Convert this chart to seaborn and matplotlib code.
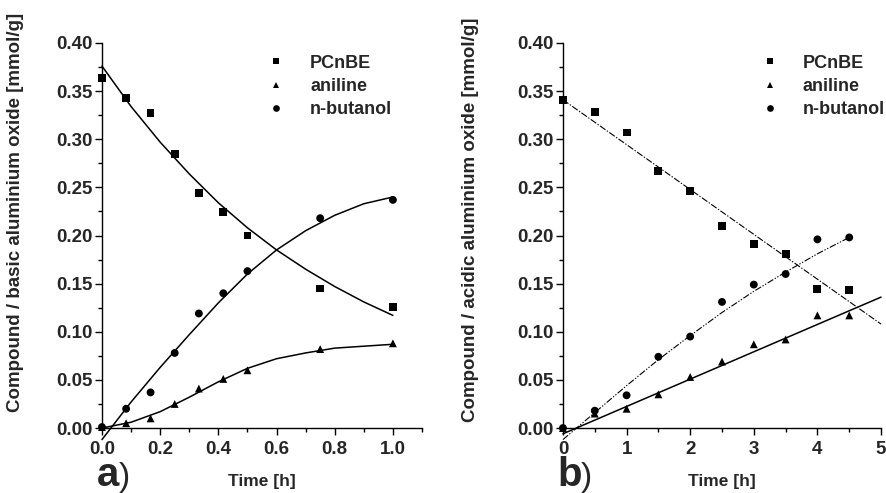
import numpy as np
import pandas as pd
import seaborn as sns
import matplotlib.pyplot as plt
from matplotlib.ticker import MultipleLocator

sns.set_style("ticks")
plt.rcParams['font.family'] = ['Liberation Sans', 'DejaVu Sans']
plt.rcParams['font.weight'] = 'bold'
plt.rcParams['axes.labelweight'] = 'bold'

# panel a) basic aluminium oxide, time [h]
t_basic = [0.0, 0.083, 0.167, 0.25, 0.333, 0.417, 0.5, 0.75, 1.0]
pcnbe_basic = [0.364, 0.343, 0.327, 0.285, 0.244, 0.224, 0.200, 0.145, 0.126]
aniline_basic = [0.001, 0.005, 0.010, 0.025, 0.041, 0.051, 0.060, 0.082, 0.088]
butanol_basic = [0.001, 0.020, 0.037, 0.078, 0.119, 0.140, 0.163, 0.218, 0.237]

# fitted curves read off panel a)
fit_t_basic = [0.0, 0.1, 0.2, 0.3, 0.4, 0.5, 0.6, 0.7, 0.8, 0.9, 1.0]
fit_pcnbe_basic = [0.376, 0.334, 0.297, 0.264, 0.234, 0.208, 0.185, 0.165, 0.147, 0.131, 0.117]
fit_aniline_basic = [0.000, 0.006, 0.017, 0.032, 0.048, 0.062, 0.072, 0.078, 0.083, 0.085, 0.087]
fit_butanol_basic = [-0.012, 0.027, 0.063, 0.097, 0.130, 0.160, 0.185, 0.205, 0.221, 0.233, 0.240]

# panel b) acidic aluminium oxide, time [h]
t_acid = [0.0, 0.5, 1.0, 1.5, 2.0, 2.5, 3.0, 3.5, 4.0, 4.5]
pcnbe_acid = [0.341, 0.328, 0.307, 0.267, 0.246, 0.210, 0.191, 0.181, 0.144, 0.143]
aniline_acid = [0.000, 0.015, 0.020, 0.035, 0.053, 0.069, 0.087, 0.092, 0.117, 0.117]
butanol_acid = [0.000, 0.018, 0.034, 0.074, 0.095, 0.131, 0.149, 0.160, 0.196, 0.198]

fit_t_acid_lin = [0.0, 5.0]
fit_pcnbe_acid = [0.341, 0.108]
fit_aniline_acid = [-0.006, 0.136]
fit_t_acid_but = [0.0, 0.5, 1.0, 1.5, 2.0, 2.5, 3.0, 3.5, 4.0, 4.5]
fit_butanol_acid = [-0.012, 0.016, 0.044, 0.071, 0.096, 0.120, 0.142, 0.162, 0.181, 0.198]

names = ['PCnBE', 'aniline', 'n-butanol']
markers = {'PCnBE': 's', 'aniline': '^', 'n-butanol': 'o'}


def points_frame(t, a, b, c):
    return pd.DataFrame({
        'time': list(t) * 3,
        'value': list(a) + list(b) + list(c),
        'compound': [names[0]] * len(t) + [names[1]] * len(t) + [names[2]] * len(t),
    })


fig = plt.figure(figsize=(8.86, 4.93), dpi=100)
ax1 = fig.add_axes([0.1151, 0.1318, 0.3612, 0.781])
ax2 = fig.add_axes([0.6354, 0.1318, 0.3590, 0.781])

# fit lines
sns.lineplot(x=fit_t_basic, y=fit_pcnbe_basic, ax=ax1, color='black', lw=1.1, clip_on=False)
sns.lineplot(x=fit_t_basic, y=fit_aniline_basic, ax=ax1, color='black', lw=1.1, clip_on=False)
sns.lineplot(x=fit_t_basic, y=fit_butanol_basic, ax=ax1, color='black', lw=1.1, clip_on=False)

sns.lineplot(x=fit_t_acid_lin, y=fit_pcnbe_acid, ax=ax2, color='black', lw=0.8,
             clip_on=False).lines[-1].set_dashes([6, 1.5, 1.2, 1.5])
sns.lineplot(x=fit_t_acid_lin, y=fit_aniline_acid, ax=ax2, color='black', lw=1.1, clip_on=False)
sns.lineplot(x=fit_t_acid_but, y=fit_butanol_acid, ax=ax2, color='black', lw=0.8,
             clip_on=False).lines[-1].set_dashes([6, 1.5, 1.2, 1.5, 1.2, 1.5])

# data points
for ax, df in [(ax1, points_frame(t_basic, pcnbe_basic, aniline_basic, butanol_basic)),
               (ax2, points_frame(t_acid, pcnbe_acid, aniline_acid, butanol_acid))]:
    sns.scatterplot(data=df, x='time', y='value', style='compound', markers=markers,
                    style_order=names, color='black', s=32, edgecolor='black',
                    linewidth=0, ax=ax, clip_on=False, zorder=5)

for ax in (ax1, ax2):
    ax.set_ylim(0, 0.40)
    ax.yaxis.set_major_locator(MultipleLocator(0.05))
    ax.yaxis.set_minor_locator(MultipleLocator(0.025))
    ax.set_yticklabels([f'{v:.2f}' for v in ax.get_yticks()])
    sns.despine(ax=ax)
    for s in ('left', 'bottom'):
        ax.spines[s].set_linewidth(1.0)
        ax.spines[s].set_color('black')
    ax.tick_params(which='major', length=5, width=1.0, labelsize=13.5, pad=2, color='black')
    ax.tick_params(axis='x', which='major', pad=4)
    ax.tick_params(which='minor', length=3, width=1.0, color='black')
    ax.set_xlabel('Time [h]', fontsize=12.5, fontweight='bold', labelpad=12)

ax1.legend(loc='upper left', frameon=False, fontsize=13, handlelength=1.0,
           handletextpad=1.4, labelspacing=0.35, borderpad=0, borderaxespad=0,
           markerscale=0.85, bbox_to_anchor=(0.515, 0.97))
ax2.legend(loc='upper left', frameon=False, fontsize=13, handlelength=1.0,
           handletextpad=1.3, labelspacing=0.35, borderpad=0, borderaxespad=0,
           markerscale=0.85, bbox_to_anchor=(0.624, 0.97))

ax1.set_xlim(0, 1.1)
ax1.xaxis.set_major_locator(MultipleLocator(0.2))
ax1.xaxis.set_minor_locator(MultipleLocator(0.1))
ax1.set_xticklabels([f'{v:.1f}' for v in ax1.get_xticks()])
ax2.set_xlim(0, 5)
ax2.xaxis.set_major_locator(MultipleLocator(1))
ax2.xaxis.set_minor_locator(MultipleLocator(0.5))
ax2.set_xticklabels([f'{v:.0f}' for v in ax2.get_xticks()])
for ax in (ax1, ax2):
    for lab in ax.get_xticklabels() + ax.get_yticklabels():
        lab.set_fontweight('bold')

ax1.set_ylabel('Compound / basic aluminium oxide [mmol/g]', fontsize=13.5, fontweight='bold')
ax1.yaxis.set_label_coords(-0.244, 0.56)
ax2.set_ylabel('Compound / acidic aluminium oxide [mmol/g]', fontsize=13.5, fontweight='bold')
ax2.yaxis.set_label_coords(-0.264, 0.54)

fig.text(0.109, 0.014, 'a', fontsize=29, fontweight='bold', va='baseline')
fig.text(0.134, 0.014, ')', fontsize=24, fontweight='normal', va='baseline')
fig.text(0.629, 0.014, 'b', fontsize=29, fontweight='bold', va='baseline')
fig.text(0.656, 0.014, ')', fontsize=24, fontweight='normal', va='baseline')

fig.savefig('out.png', dpi=100)
